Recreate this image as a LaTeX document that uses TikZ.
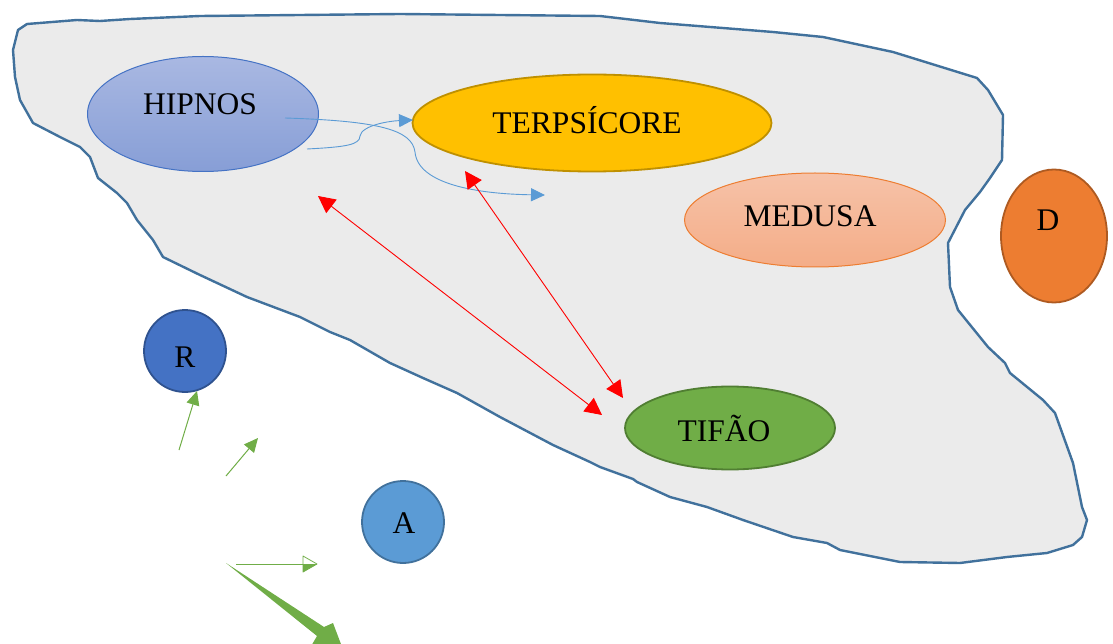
\documentclass[tikz,border=0pt]{standalone}
\usepackage{fontspec}
\setmainfont{Liberation Serif}
\usetikzlibrary{arrows.meta,shapes.geometric}
\definecolor{blobfill}{HTML}{EBEBEB}
\definecolor{blobline}{HTML}{41719C}
\definecolor{hipA}{HTML}{A9B8E2}
\definecolor{hipB}{HTML}{879ED6}
\definecolor{hipline}{HTML}{4472C4}
\definecolor{gold}{HTML}{FFC000}
\definecolor{goldline}{HTML}{BF9000}
\definecolor{salA}{HTML}{F6C2A8}
\definecolor{salB}{HTML}{F4AD88}
\definecolor{orange}{HTML}{ED7D31}
\definecolor{orangeline}{HTML}{AE5A21}
\definecolor{rblue}{HTML}{4472C4}
\definecolor{rline}{HTML}{2F528F}
\definecolor{ablue}{HTML}{5B9BD5}
\definecolor{aline}{HTML}{41719C}
\definecolor{green}{HTML}{70AD47}
\definecolor{greenline}{HTML}{507E32}
\definecolor{link}{HTML}{5B9BD5}
\definecolor{redlink}{HTML}{FF0000}
\begin{document}
\begin{tikzpicture}[x=1pt,y=-1pt,
  oval/.style={ellipse,inner sep=0pt,line width=1.8pt},
  lbl/.style={inner sep=0pt,font=\fontsize{31.5}{36}\selectfont},
  bluelink/.style={draw=link,line width=0.9pt,-{Triangle[length=14pt,width=13pt]}},
  redlink/.style={draw=redlink,line width=0.9pt,{Triangle[length=17pt,width=17pt]}-{Triangle[length=17pt,width=17pt]}},
  greenlink/.style={draw=green,line width=1pt,-{Triangle[length=14pt,width=13pt]}}]
\useasboundingbox (0,0) rectangle (1113,644);
\clip (0,0) rectangle (1113,644);

% hand-drawn region
\draw[fill=blobfill,draw=blobline,line width=2.4pt,line join=round]
 (27,24) -- (77,20) -- (100,21) -- (130,19) -- (200,16) -- (400,14) -- (600,16)
 -- (660,23) -- (773,32) -- (823,37) -- (893,52) -- (977,78) -- (988,90)
 -- (1003,115) -- (1002,160) -- (990,178) -- (980,192) -- (965,210) -- (948,243)
 -- (950,287) -- (958,310) -- (988,347) -- (1005,363) -- (1010,373) -- (1043,400)
 -- (1055,413) -- (1073,463) -- (1082,507) -- (1087,520) -- (1082,537) -- (1073,545)
 -- (1047,553) -- (1007,557) -- (960,563) -- (900,562) -- (840,550) -- (827,543)
 -- (793,537) -- (743,520) -- (707,507) -- (670,497) -- (637,482) -- (633,479)
 -- (600,467) -- (590,462) -- (553,445) -- (500,417) -- (457,393) -- (423,378)
 -- (390,363) -- (350,340) -- (330,332) -- (300,317) -- (247,297) -- (200,275)
 -- (163,257) -- (153,240) -- (137,220) -- (127,203) -- (117,193) -- (98,178)
 -- (90,157) -- (80,147) -- (60,137) -- (33,123) -- (20,100) -- (15,77)
 -- (13,50) -- (18,30) -- cycle;

% figures
\node[oval,minimum width=231pt,minimum height=115pt,top color=hipA,bottom color=hipB,draw=hipline,line width=1pt] (hip) at (203,114) {};
\node[lbl] (hipt) at (200,104) {HIPNOS};
\node[oval,minimum width=359pt,minimum height=97pt,fill=gold,draw=goldline] (ter) at (592,123) {};
\node[lbl] (tert) at (587,120) {TERPSÍCORE};
\node[oval,minimum width=261pt,minimum height=94pt,top color=salA,bottom color=salB,draw=orange,line width=1pt] (med) at (815,220) {};
\node[lbl] (medt) at (810,216) {MEDUSA};
\node[oval,minimum width=106pt,minimum height=133pt,fill=orange,draw=orangeline] (d) at (1054,236) {};
\node[lbl] (dt) at (1048,220) {D};
\node[circle,inner sep=0pt,minimum size=82pt,fill=rblue,draw=rline,line width=1.8pt] (r) at (185,351) {};
\node[lbl] (rt) at (185,357) {R};
\node[circle,inner sep=0pt,minimum size=82pt,fill=ablue,draw=aline,line width=1.8pt] (a) at (403,522) {};
\node[lbl] (at) at (404,523) {A};
\node[oval,minimum width=210pt,minimum height=83pt,fill=green,draw=greenline] (tif) at (730,428) {};
\node[lbl] (tift) at (724,428) {TIFÃO};

% curved links out of HIPNOS
\coordinate (b1s) at (285,118);
\coordinate (b1e) at (545,195);
\coordinate (b2s) at (307,149);
\coordinate (b2e) at (413,120);
\draw[bluelink] (b1s) .. controls (380,121) and (412,130) .. (415,152)
  .. controls (418,185) and (480,194) .. (b1e);
\draw[bluelink] (b2s) .. controls (345,147) and (360,145) .. (360,136)
  .. controls (362,125) and (390,121) .. (b2e);

% double-headed links to TIFÃO
\coordinate (r1a) at (318,196);
\coordinate (r1b) at (602,415);
\coordinate (r2a) at (465,171);
\coordinate (r2b) at (623,398);
\draw[redlink] (r1a) -- (r1b);
\draw[redlink] (r2a) -- (r2b);

% green strokes
\coordinate (g1a) at (179,450);
\coordinate (g1b) at (197,391);
\coordinate (g2a) at (226,476);
\coordinate (g2b) at (258,438);
\draw[greenlink] (g1a) -- (g1b);
\draw[greenlink] (g2a) -- (g2b);
\coordinate (g3a) at (236,564);
\coordinate (g3b) at (303,564);
\coordinate (g3t) at (317,564);
\draw[green,line width=1pt] (g3a) -- (g3b);
\draw[green,line width=0.8pt,fill=white,line join=round] (303,556) -- (g3t) -- (303,572) -- cycle;
\fill[green] (303,564) -- (g3t) -- (303,572) -- cycle;
\coordinate (g4a) at (226,563);
\fill[green] (g4a) -- (324,627) -- (333,623) -- (347,660) -- (310,648) -- (317,636) -- cycle;
\end{tikzpicture}
\end{document}
